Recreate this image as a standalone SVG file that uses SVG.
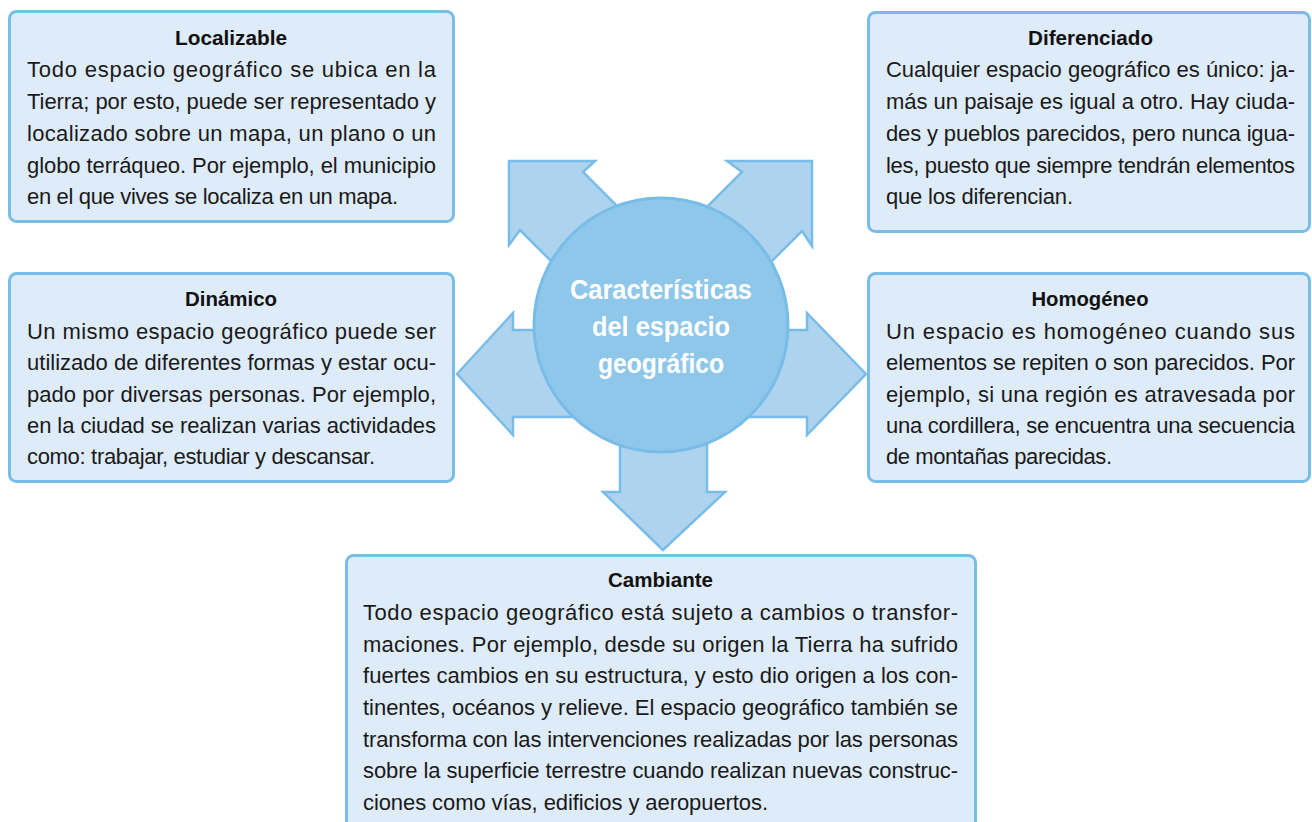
<svg xmlns="http://www.w3.org/2000/svg" width="1312" height="822" viewBox="0 0 1312 822">
<style>
.box{fill:#deebf8;stroke:#78bce8;stroke-width:3}
.arrow{fill:#aed3ef;stroke:#78bce8;stroke-width:2.5;stroke-linejoin:miter}
.hub{fill:#8fc7eb;stroke:#78bce8;stroke-width:3}
.title{font-family:"Liberation Sans",Arial,sans-serif;font-weight:bold;font-size:20px;fill:#111;text-anchor:middle}
.body{font-family:"Liberation Sans",Arial,sans-serif;font-size:22px;fill:#1a1a1a}
.hubtext{font-family:"Liberation Sans",Arial,sans-serif;font-weight:bold;font-size:28px;fill:#ffffff;text-anchor:middle}
</style>
<rect width="1312" height="822" fill="#ffffff"/>

<g id="connectors">
  <polygon class="arrow" points="509,161 595,161 583,172 670,259 607,317 520,230 509,245"/>
  <polygon class="arrow" points="812,161 727,161 742,172 655,259 715,318 802,231 812,246"/>
  <polygon class="arrow" points="457,374 513,313 513,330 661,330 661,417 513,417 513,435"/>
  <polygon class="arrow" points="866,374 807,313 807,330 661,330 661,417 807,417 807,435"/>
  <polygon class="arrow" points="663,550 603,492 620,492 620,325 707,325 707,492 725,492"/>
</g>

<g id="hub">
  <circle class="hub" cx="661" cy="325" r="127"/>
  <text class="hubtext" x="661" y="299" textLength="182" lengthAdjust="spacingAndGlyphs">Características</text>
  <text class="hubtext" x="661" y="336" textLength="138" lengthAdjust="spacingAndGlyphs">del espacio</text>
  <text class="hubtext" x="661" y="373" textLength="126" lengthAdjust="spacingAndGlyphs">geográfico</text>
</g>

<g id="localizable">
  <rect class="box" x="9.5" y="11.5" width="444" height="210" rx="7"/>
  <text class="title" x="231" y="45" textLength="112" lengthAdjust="spacingAndGlyphs">Localizable</text>
  <text class="body" x="27" y="77" textLength="409" lengthAdjust="spacing">Todo espacio geográfico se ubica en la</text>
  <text class="body" x="27" y="109" textLength="409" lengthAdjust="spacing">Tierra; por esto, puede ser representado y</text>
  <text class="body" x="27" y="141" textLength="409" lengthAdjust="spacing">localizado sobre un mapa, un plano o un</text>
  <text class="body" x="27" y="173" textLength="409" lengthAdjust="spacing">globo terráqueo. Por ejemplo, el municipio</text>
  <text class="body" x="27" y="204" textLength="371" lengthAdjust="spacing">en el que vives se localiza en un mapa.</text>
</g>

<g id="diferenciado">
  <rect class="box" x="868.5" y="12.5" width="441" height="219" rx="7"/>
  <text class="title" x="1090.5" y="45" textLength="125" lengthAdjust="spacingAndGlyphs">Diferenciado</text>
  <text class="body" x="886" y="77" textLength="409" lengthAdjust="spacing">Cualquier espacio geográfico es único: ja-</text>
  <text class="body" x="886" y="109" textLength="409" lengthAdjust="spacing">más un paisaje es igual a otro. Hay ciuda-</text>
  <text class="body" x="886" y="141" textLength="409" lengthAdjust="spacing">des y pueblos parecidos, pero nunca igua-</text>
  <text class="body" x="886" y="173" textLength="409" lengthAdjust="spacing">les, puesto que siempre tendrán elementos</text>
  <text class="body" x="886" y="204" textLength="187" lengthAdjust="spacing">que los diferencian.</text>
</g>

<g id="dinamico">
  <rect class="box" x="9.5" y="273.5" width="444" height="208" rx="7"/>
  <text class="title" x="231" y="306" textLength="92" lengthAdjust="spacingAndGlyphs">Dinámico</text>
  <text class="body" x="27" y="339" textLength="409" lengthAdjust="spacing">Un mismo espacio geográfico puede ser</text>
  <text class="body" x="27" y="370" textLength="409" lengthAdjust="spacing">utilizado de diferentes formas y estar ocu-</text>
  <text class="body" x="27" y="402" textLength="409" lengthAdjust="spacing">pado por diversas personas. Por ejemplo,</text>
  <text class="body" x="27" y="433" textLength="409" lengthAdjust="spacing">en la ciudad se realizan varias actividades</text>
  <text class="body" x="27" y="464" textLength="348" lengthAdjust="spacing">como: trabajar, estudiar y descansar.</text>
</g>

<g id="homogeneo">
  <rect class="box" x="868.5" y="273.5" width="441" height="208" rx="7"/>
  <text class="title" x="1090" y="306" textLength="117" lengthAdjust="spacingAndGlyphs">Homogéneo</text>
  <text class="body" x="886" y="339" textLength="409" lengthAdjust="spacing">Un espacio es homogéneo cuando sus</text>
  <text class="body" x="886" y="370" textLength="409" lengthAdjust="spacing">elementos se repiten o son parecidos. Por</text>
  <text class="body" x="886" y="402" textLength="409" lengthAdjust="spacing">ejemplo, si una región es atravesada por</text>
  <text class="body" x="886" y="433" textLength="409" lengthAdjust="spacing">una cordillera, se encuentra una secuencia</text>
  <text class="body" x="886" y="464" textLength="226" lengthAdjust="spacing">de montañas parecidas.</text>
</g>

<g id="cambiante">
  <rect class="box" x="346.5" y="555.5" width="629" height="300" rx="7"/>
  <text class="title" x="660.5" y="587" textLength="105" lengthAdjust="spacingAndGlyphs">Cambiante</text>
  <text class="body" x="363" y="620" textLength="595" lengthAdjust="spacing">Todo espacio geográfico está sujeto a cambios o transfor-</text>
  <text class="body" x="363" y="652" textLength="595" lengthAdjust="spacing">maciones. Por ejemplo, desde su origen la Tierra ha sufrido</text>
  <text class="body" x="363" y="683" textLength="595" lengthAdjust="spacing">fuertes cambios en su estructura, y esto dio origen a los con-</text>
  <text class="body" x="363" y="715" textLength="595" lengthAdjust="spacing">tinentes, océanos y relieve. El espacio geográfico también se</text>
  <text class="body" x="363" y="747" textLength="595" lengthAdjust="spacing">transforma con las intervenciones realizadas por las personas</text>
  <text class="body" x="363" y="778" textLength="595" lengthAdjust="spacing">sobre la superficie terrestre cuando realizan nuevas construc-</text>
  <text class="body" x="363" y="810" textLength="405" lengthAdjust="spacing">ciones como vías, edificios y aeropuertos.</text>
</g>
</svg>
